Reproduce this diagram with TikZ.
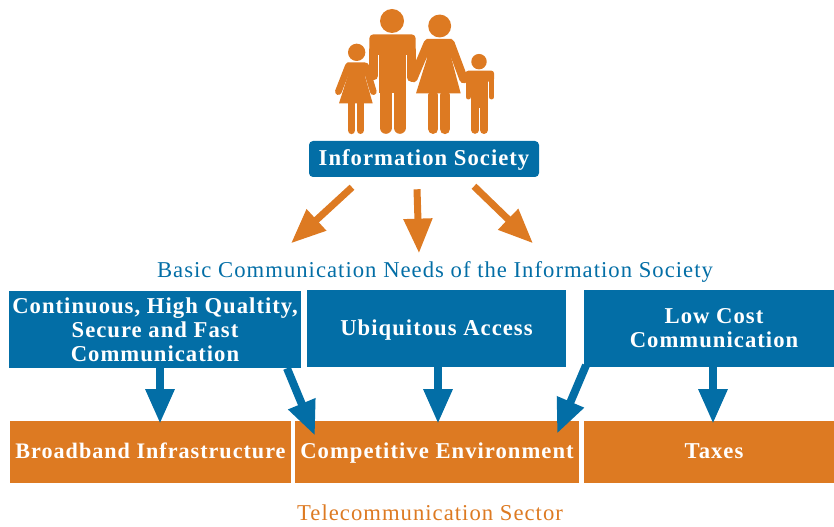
\documentclass[tikz,border=0pt]{standalone}
\usepackage{fontspec}
\setmainfont[LetterSpace=4.5]{Liberation Serif}
\usetikzlibrary{calc,arrows.meta}
\definecolor{sectorblue}{RGB}{3,110,166}
\definecolor{sectororange}{RGB}{221,122,34}
\tikzset{
  bluebox/.style={fill=sectorblue,text=white,inner sep=0pt,minimum height=57.75pt,align=center,font=\fontsize{17}{18}\selectfont\bfseries},
  orangebox/.style={fill=sectororange,text=white,inner sep=0pt,minimum height=46.5pt,text height=12.5pt,text depth=3.5pt,font=\fontsize{17}{18}\selectfont\bfseries},
  caption/.style={inner sep=0pt,font=\fontsize{17}{18}\selectfont},
  bluearrow/.style={draw=sectorblue,line width=6pt,-{Triangle[length=26pt,width=20.5pt]}},
  orangearrow/.style={draw=sectororange,line width=5.25pt,-{Triangle[length=26pt,width=20.5pt]}},
  limb/.style={draw=sectororange,line cap=round,line width=#1}
}
\begin{document}
\begin{tikzpicture}[x=0.75pt,y=0.75pt,yscale=-1,xscale=1]
  \useasboundingbox (0,0) rectangle (834,527);
  %Family
  \begin{scope}[shift={(300,0)},x=0.25pt,y=0.25pt]
    %Girl
    \fill[sectororange] (170,157) circle [radius=6.5pt];
    \fill[sectororange] (142,232) -- (117,310) -- (218,310) -- (196,232) -- (196,187) -- (142,187) -- cycle;
    \draw[limb=5pt] (145,198) -- (115,275);
    \draw[limb=5pt] (197,198) -- (220,275);
    \draw[limb=5.75pt] (154.5,305) -- (154.5,391);
    \draw[limb=5.5pt] (181,305) -- (181,391);
    %Man
    \fill[sectororange] (276,63) circle [radius=9pt];
    \fill[sectororange,rounded corners=3pt] (208,165) -- (208,103) -- (347,103) -- (347,165) -- cycle;
    \fill[sectororange] (238,150) rectangle (318,280);
    \draw[limb=6.75pt] (221.5,150) -- (221.5,227);
    \draw[limb=6.25pt] (334.5,150) -- (334.5,233);
    \draw[limb=9.25pt] (257,270) -- (257,383);
    \draw[limb=9.25pt] (299,270) -- (299,383);
    %Woman
    \fill[sectororange] (419,78) circle [radius=8.6pt];
    \fill[sectororange] (380,178) -- (348,280) -- (482,280) -- (455,178) -- (455,117) -- (380,117) -- cycle;
    \draw[limb=6.5pt] (384,130) -- (340,234);
    \draw[limb=6.5pt] (451,130) -- (491,237);
    \draw[limb=7.5pt] (400,285) -- (400,387);
    \draw[limb=7.75pt] (434.5,285) -- (434.5,387);
    %Boy
    \fill[sectororange] (537,185) circle [radius=5.8pt];
    \fill[sectororange,rounded corners=2pt] (497,245) -- (497,212) -- (582,212) -- (582,245) -- cycle;
    \fill[sectororange] (514,235) rectangle (564,325);
    \draw[limb=3.75pt] (504.5,225) -- (504.5,291);
    \draw[limb=3.75pt] (574.5,225) -- (574.5,291);
    \draw[limb=5.75pt] (525.5,320) -- (525.5,390);
    \draw[limb=6pt] (552,320) -- (552,390);
  \end{scope}
  %Nodes
  \node [fill=sectorblue,text=white,rounded corners=3pt,inner sep=0pt,minimum width=172.5pt,minimum height=27pt,text height=13.5pt,text depth=3pt,font=\fontsize{17}{18}\selectfont\bfseries] (society) at (424,159) {Information Society};
  \node [caption,text=sectorblue] (needs) at (435,272) {Basic Communication Needs of the Information Society};
  \node [bluebox,minimum width=219pt] (continuous) at (155,329.5) {Continuous, High Qualtity,\\Secure and Fast\\Communication};
  \node [bluebox,minimum width=194.25pt,text height=13pt,text depth=3.2pt] (ubiquitous) at (436.5,328.5) {Ubiquitous Access};
  \node [bluebox,minimum width=195pt] (lowcost) at (714,328.5) {Low Cost\\Communication};
  \node [orangebox,minimum width=210.75pt,font=\fontsize{16.6}{18}\selectfont\bfseries] (broadband) at (150.5,452) {Broadband Infrastructure};
  \node [orangebox,minimum width=213pt] (competitive) at (437,452) {Competitive Environment};
  \node [orangebox,minimum width=195pt] (taxes) at (714,452) {Taxes};
  \node [caption,text=sectororange] (sector) at (430,513) {Telecommunication Sector};
  %Arrows
  \draw [orangearrow] ($(society.south)+(-72,10)$) -- ($(needs.north)+(-144,-18)$);
  \draw [orangearrow] ($(society.south)+(-7,12)$) -- ($(needs.north)+(-16,-8)$);
  \draw [orangearrow] ($(society.south)+(50,9)$) -- ($(needs.north)+(98,-18)$);
  \draw [bluearrow] ($(continuous.south)+(5,0)$) -- ($(broadband.north)+(9.5,3)$);
  \draw [bluearrow] ($(continuous.south)+(132,0)$) -- ($(competitive.north)+(-122,15)$);
  \draw [bluearrow] ($(ubiquitous.south)+(1.5,0)$) -- ($(competitive.north)+(1,3)$);
  \draw [bluearrow] ($(lowcost.south)+(-128,-2)$) -- ($(competitive.north)+(120,13)$);
  \draw [bluearrow] ($(lowcost.south)+(-1,0)$) -- ($(taxes.north)+(-1,3)$);
\end{tikzpicture}
\end{document}
